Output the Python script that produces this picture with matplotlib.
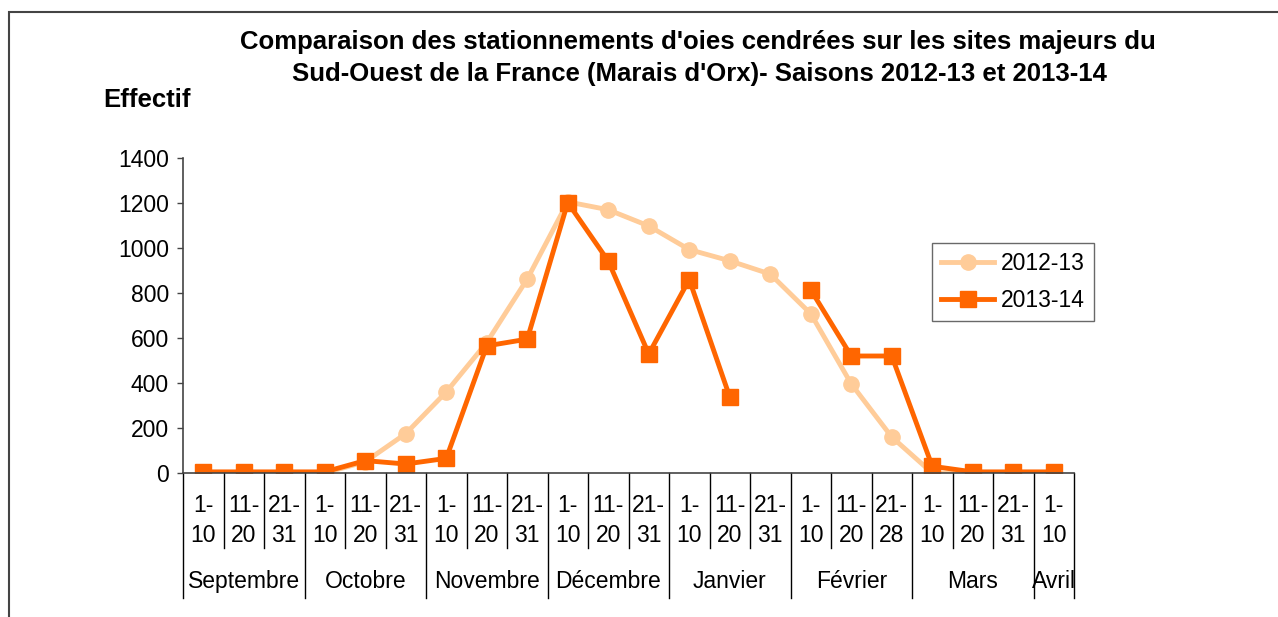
import numpy as np
import matplotlib.pyplot as plt
from matplotlib.patches import Rectangle

plt.rcParams['font.family'] = ['Liberation Sans', 'DejaVu Sans']

# Données : effectifs par décade
periodes = ['1-10', '11-20', '21-31',   # Septembre
            '1-10', '11-20', '21-31',   # Octobre
            '1-10', '11-20', '21-31',   # Novembre
            '1-10', '11-20', '21-31',   # Décembre
            '1-10', '11-20', '21-31',   # Janvier
            '1-10', '11-20', '21-28',   # Février
            '1-10', '11-20', '21-31',   # Mars
            '1-10']                     # Avril
mois = ['Septembre', 'Octobre', 'Novembre', 'Décembre', 'Janvier', 'Février', 'Mars', 'Avril']
nb_decades = [3, 3, 3, 3, 3, 3, 3, 1]

saison_2012 = [0, 0, 0, 0, 50, 175, 360, 580, 862, 1205, 1170, 1098, 993, 943, 884,
               708, 396, 160, 0, 0, 0, 0]
saison_2013 = [5, 5, 5, 5, 55, 40, 65, 565, 595, 1202, 942, 529, 860, 338, np.nan,
               814, 520, 520, 30, 5, 5, 5]

W, H = 1278, 617
fig = plt.figure(figsize=(W / 100, H / 100), dpi=100)
ax = fig.add_axes([183 / W, 1 - 473 / H, 891 / W, 315 / H])

x = np.arange(len(periodes))
ax.plot(x, saison_2012, color='#FFCC99', lw=3.5, marker='o', ms=11, label='2012-13')
ax.plot(x, saison_2013, color='#FF6600', lw=3.5, marker='s', ms=11.5, label='2013-14')

ax.set_xlim(-0.5, len(periodes) - 0.5)
ax.set_ylim(0, 1400)
ax.set_yticks(range(0, 1401, 200))
ax.tick_params(axis='y', labelsize=16.5, length=4, width=1, color='#444444', pad=6)
ax.set_xticks([])
for s in ['top', 'right']:
    ax.spines[s].set_visible(False)
for s in ['left', 'bottom']:
    ax.spines[s].set_color('#444444')
    ax.spines[s].set_linewidth(1.2)

# étiquettes de catégories à deux niveaux
tr = ax.get_xaxis_transform()
for i, p in enumerate(periodes):
    a, b = p.split('-')
    ax.text(i, -0.102, a + '-', transform=tr, ha='center', va='center', fontsize=16.5, clip_on=False)
    ax.text(i, -0.197, b, transform=tr, ha='center', va='center', fontsize=16.5, clip_on=False)

limites = np.cumsum([0] + nb_decades) - 0.5
for i in range(len(periodes) + 1):
    xs = i - 0.5
    bas = -0.397 if xs in limites else -0.238
    ax.plot([xs, xs], [0, bas], transform=tr, color='black', lw=1, clip_on=False)
for k, m in enumerate(mois):
    xc = (limites[k] + limites[k + 1]) / 2
    ax.text(xc, -0.346, m, transform=tr, ha='center', va='center', fontsize=16.5, clip_on=False)

# titres
fig.text(698 / W, 1 - 42 / H, "Comparaison des stationnements d'oies cendrées sur les sites majeurs du",
         ha='center', va='center', fontsize=18.5, fontweight='bold')
fig.text(699 / W, 1 - 74 / H, "Sud-Ouest de la France (Marais d'Orx)- Saisons 2012-13 et 2013-14",
         ha='center', va='center', fontsize=18.5, fontweight='bold')
fig.text(103 / W, 1 - 100 / H, 'Effectif', ha='left', va='center', fontsize=18.5, fontweight='bold')

leg = fig.legend(loc='upper left', bbox_to_anchor=(932 / W, 1 - 243 / H), fontsize=16.5,
                 frameon=True, fancybox=False, borderaxespad=0, handlelength=2.3,
                 handletextpad=0.3, borderpad=0.4, labelspacing=0.6)
leg.get_frame().set_edgecolor('#444444')
leg.get_frame().set_linewidth(1)

# cadre de la zone graphique
fig.patches.append(Rectangle((8.5 / W, -0.1), 1.5, 1 - 12 / H + 0.1, transform=fig.transFigure,
                             fill=False, edgecolor='#444444', lw=1.5))

fig.savefig('out.png', dpi=100)
